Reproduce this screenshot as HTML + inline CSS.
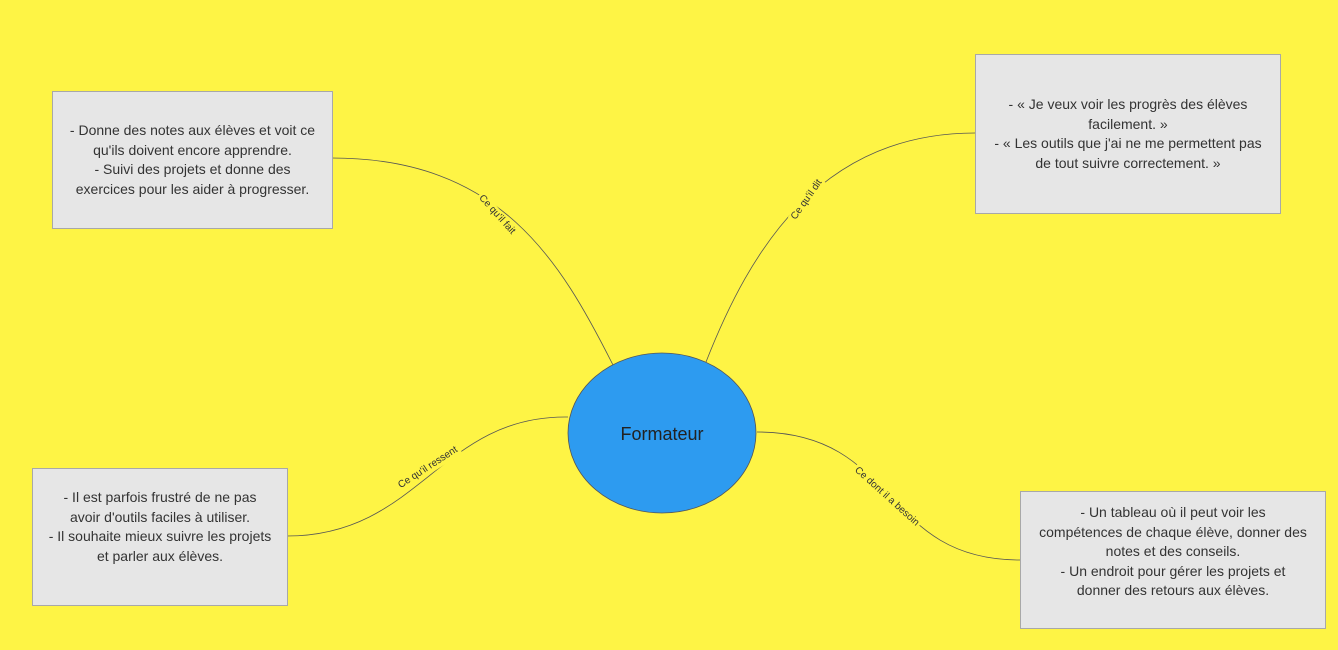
<!DOCTYPE html>
<html><head><meta charset="utf-8"><style>
html,body{margin:0;padding:0;}
body{width:1338px;height:650px;background:#fef445;position:relative;overflow:hidden;font-family:"Liberation Sans",sans-serif;}
.box{position:absolute;background:#e6e6e6;border:1px solid #a8a8a8;box-sizing:border-box;display:flex;align-items:center;justify-content:center;text-align:center;font-size:14px;line-height:19.5px;color:#333;white-space:nowrap;}
.lbl{position:absolute;font-size:10px;color:#333;background:#fef445;white-space:nowrap;transform-origin:center;padding:0 2px;line-height:12px;}
</style></head><body>
<svg width="1338" height="650" style="position:absolute;left:0;top:0">
<g fill="none" stroke="#555" stroke-width="0.8">
<path d="M332,158 C500,158 560,260 613,365"/>
<path d="M975,133 C820,133 750,250 706,362"/>
<path d="M287,536 C420,536 440,415 568,417"/>
<path d="M1020,560 C880,560 900,432 757,432"/>
</g>
<ellipse cx="662" cy="433" rx="94" ry="80" fill="#2d9bf0" stroke="#555" stroke-width="0.8"/>
<text x="662" y="440" text-anchor="middle" font-family="Liberation Sans,sans-serif" font-size="18" fill="#222">Formateur</text>
</svg>
<div class="box" style="left:52px;top:91px;width:281px;height:138px;padding-bottom:0px">- Donne des notes aux élèves et voit ce<br>qu'ils doivent encore apprendre.<br>- Suivi des projets et donne des<br>exercices pour les aider à progresser.</div>
<div class="box" style="left:975px;top:54px;width:306px;height:160px;padding-bottom:0px">- « Je veux voir les progrès des élèves<br>facilement. »<br>- « Les outils que j'ai ne me permettent pas<br>de tout suivre correctement. »</div>
<div class="box" style="left:32px;top:468px;width:256px;height:138px;padding-bottom:20px">- Il est parfois frustré de ne pas<br>avoir d'outils faciles à utiliser.<br>- Il souhaite mieux suivre les projets<br>et parler aux élèves.</div>
<div class="box" style="left:1020px;top:491px;width:306px;height:138px;padding-bottom:16px">- Un tableau où il peut voir les<br>compétences de chaque élève, donner des<br>notes et des conseils.<br>- Un endroit pour gérer les projets et<br>donner des retours aux élèves.</div>
<div class="lbl" style="left:470px;top:209px;transform:rotate(48deg)">Ce qu'il fait</div>
<div class="lbl" style="left:782px;top:194px;transform:rotate(-55deg)">Ce qu'il dit</div>
<div class="lbl" style="left:392px;top:462px;transform:rotate(-33deg)">Ce qu'il ressent</div>
<div class="lbl" style="left:843px;top:491px;transform:rotate(42deg)">Ce dont il a besoin</div>
</body></html>
